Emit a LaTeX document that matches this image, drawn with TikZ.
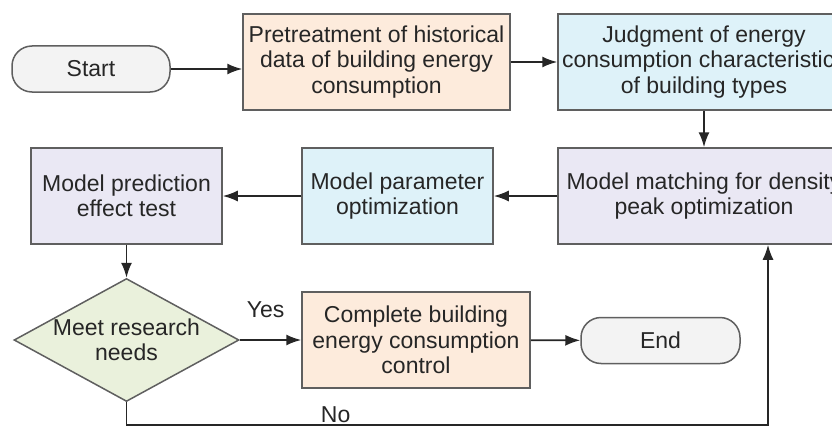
\documentclass[tikz,border=0pt]{standalone}
\usepackage{fontspec}
\setmainfont{Liberation Sans}
\usetikzlibrary{shapes.geometric, arrows.meta, positioning}
\definecolor{edgegray}{HTML}{5F5F5F}
\definecolor{textgray}{HTML}{262626}
\definecolor{termfill}{HTML}{F3F3F3}
\definecolor{peachfill}{HTML}{FDEBDC}
\definecolor{bluefill}{HTML}{DEF2F9}
\definecolor{lilacfill}{HTML}{EAE8F4}
\definecolor{greenfill}{HTML}{EAF1DC}

\begin{document}
\begin{tikzpicture}[x=1pt, y=-1pt]

          % Setup the style for the blocks
          \tikzset{block style/.style={rectangle,
                                       draw=edgegray,
                                       line width=1.5pt,
                                       minimum height=96pt,
                                       inner xsep=0pt,
                                       align=center,
                                       text=textgray,
                                       font=\fontsize{23}{25.5}\selectfont},
                   term style/.style={block style, rounded corners=20pt,
                                      minimum height=46pt, fill=termfill},
                   test style/.style={block style, diamond, aspect=1.83,
                                      inner sep=-1.5pt, minimum width=225pt,
                                      minimum height=123pt, fill=greenfill},
                   label style/.style={inner sep=0pt, text=textgray,
                                       font=\fontsize{23}{25.5}\selectfont},
                   flow style/.style={line width=1.7pt, draw=black!85,
                                      >={Latex[length=15pt,width=11pt]}, ->}}
          \useasboundingbox (0,0) rectangle (832,428);
          % Draw the blocks
          \node[term style, minimum width=158pt] at (91, 69)   (start)    {Start};
          \node[block style, fill=peachfill, minimum width=267pt] at (376.5, 62) (pretreat)
               {Pretreatment of historical\\data of building energy\\consumption};
          \node[block style, fill=bluefill, minimum width=292pt] at (704, 62) (judge)
               {Judgment of energy\\consumption characteristics\\of building types};
          \node[block style, fill=lilacfill, minimum width=292pt] at (704, 196) (match)
               {Model matching for density\\peak optimization};
          \node[block style, fill=bluefill, minimum width=191pt] at (397.5, 196) (param)
               {Model parameter\\optimization};
          \node[block style, fill=lilacfill, minimum width=191pt] at (126.5, 196) (predict)
               {Model prediction\\effect test};
          \node[test style] at (126.5, 340) (meet) {Meet research\\needs};
          \node[block style, fill=peachfill, minimum width=228pt] at (416, 340) (complete)
               {Complete building\\energy consumption\\control};
          \node[term style, minimum width=159pt] at (660.5, 340.5) (end) {End};
          \coordinate (nocorner) at (768, 425);
          % Connect the blocks with arrows
          \draw[flow style] (start) -- (pretreat.west |- start);
          \draw[flow style] (pretreat) -- (judge);
          \draw[flow style] (judge) -- (match);
          \draw[flow style] (match) -- (param);
          \draw[flow style] (param) -- (predict);
          \draw[flow style] (predict) -- (meet);
          \draw[flow style] (meet) -- node[label style, pos=1, anchor=base east,
                xshift=-16pt, yshift=23pt] (yes) {Yes} (complete);
          \draw[flow style] (complete) -- (end);
          \draw[flow style] (meet.south) |- (nocorner)
                node[label style, pos=0.663, anchor=base, yshift=3pt] (no) {No}
                -- (match.south -| nocorner);
\end{tikzpicture}
\end{document}
